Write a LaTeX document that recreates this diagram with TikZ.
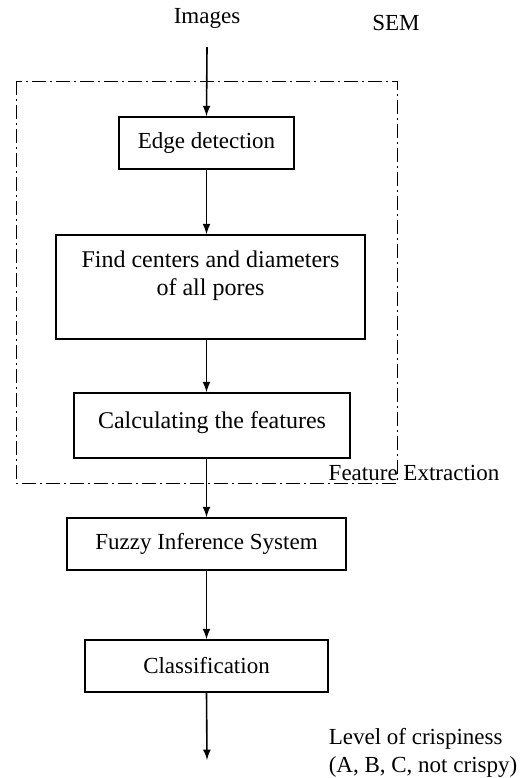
\documentclass[tikz,border=0pt]{standalone}
\usepackage{fontspec}
\setmainfont{Liberation Serif}

\begin{document}
\begin{tikzpicture}[x=0.5pt, y=-0.5pt, line width=0.8pt,
  stage/.style={draw, inner sep=0pt, align=center, font=\fontsize{11.5}{14}\selectfont},
  note/.style={inner sep=0pt, font=\fontsize{11.5}{14}\selectfont},
  frame/.style={line width=0.4pt, dash pattern=on 7pt off 2pt on 1pt off 2pt}]

\useasboundingbox (0, 0) rectangle (529, 778);

\draw[frame] (16, 81) rectangle (397, 483);

\node[note] (img) at (207, 18) {Images};
\node[note] (sem) at (396, 23) {SEM};
\coordinate (in) at (207, 47);

\node[stage, minimum width=87.5pt, minimum height=26pt] (edge) at (206.5, 143) {Edge detection};
\node[stage, minimum width=154.5pt, minimum height=52pt, font=\fontsize{12}{14}\selectfont] (find) at (210.5, 287) {Find centers and diameters\\of all pores\\ \mbox{}};
\node[stage, minimum width=138pt, minimum height=32.5pt, font=\fontsize{12}{14}\selectfont, text depth=5pt] (calc) at (212, 425.5) {Calculating the features};
\node[note] (fe) at (414, 473) {Feature Extraction};

\node[stage, minimum width=139.5pt, minimum height=26pt] (fis) at (206.5, 544) {Fuzzy Inference System};
\node[stage, minimum width=121.5pt, minimum height=26pt] (cls) at (206.5, 666) {Classification};

\coordinate (out) at (207, 760);
\node[note, align=left, anchor=west] (lvl) at (328, 753) {Level of crispiness\\(A, B, C, not crispy)};

\draw[-latex] (in) -- (edge.north);
\draw[-latex] (edge.south) -- (edge.south |- find.north);
\draw[-latex] (edge.south |- find.south) -- (edge.south |- calc.north);
\draw[-latex] (edge.south |- calc.south) -- (fis.north);
\draw[-latex] (fis.south) -- (cls.north);
\draw[-latex] (cls.south) -- (out);

\end{tikzpicture}
\end{document}
